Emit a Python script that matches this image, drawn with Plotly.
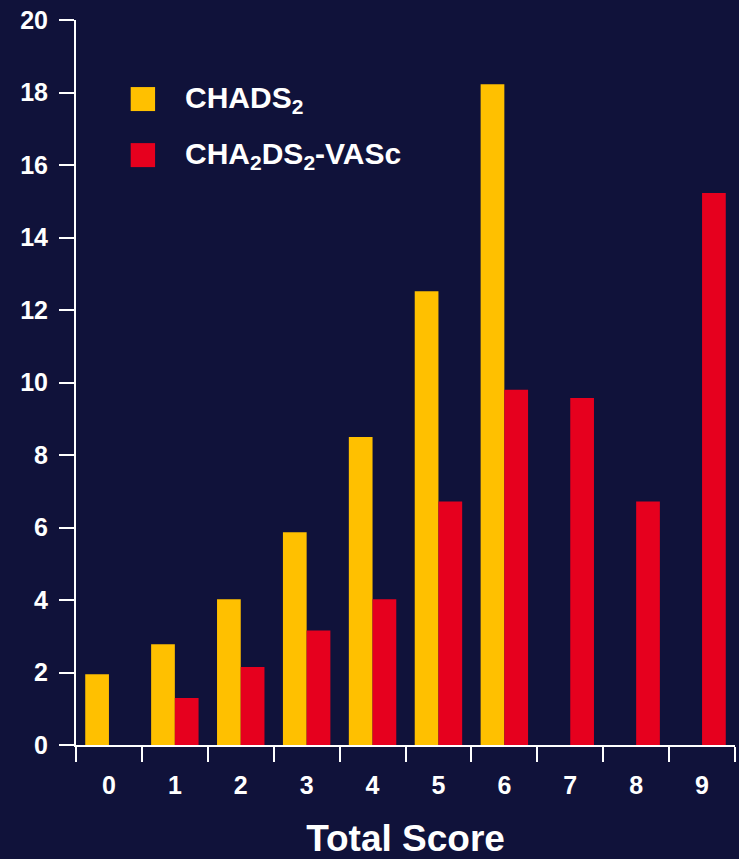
import plotly.graph_objects as go

# values (percent per total score)
scores = ['0', '1', '2', '3', '4', '5', '6', '7', '8', '9']
chads2 = [1.95, 2.78, 4.02, 5.87, 8.5, 12.52, 18.23, None, None, None]
cha2ds2_vasc = [None, 1.3, 2.15, 3.16, 4.02, 6.72, 9.8, 9.57, 6.72, 15.23]
series_names = ['CHADS<sub>2</sub>', 'CHA<sub>2</sub>DS<sub>2</sub>-VASc']
series_colors = ['#FFC000', '#E6001E']
y_ticks = [0, 2, 4, 6, 8, 10, 12, 14, 16, 18, 20]

BG = '#10123A'
FONT = dict(family='Liberation Sans, Arial, sans-serif', color='white', weight='bold')

fig = go.Figure()
fig.add_trace(go.Bar(x=scores, y=chads2, name=series_names[0],
                     marker=dict(color=series_colors[0], line_width=0)))
fig.add_trace(go.Bar(x=scores, y=cha2ds2_vasc, name=series_names[1],
                     marker=dict(color=series_colors[1], line_width=0)))

fig.update_layout(
    width=739, height=859,
    margin=dict(l=76, r=4, t=20, b=114),
    paper_bgcolor=BG, plot_bgcolor=BG,
    barmode='group', bargap=0.28, bargroupgap=0,
    showlegend=False,
    font=FONT,
)

fig.update_xaxes(
    type='category', tickson='boundaries',
    showline=True, linecolor='white', linewidth=2,
    ticks='outside', ticklen=15, tickwidth=2, tickcolor='white',
    tickfont=dict(size=25, **FONT), ticklabelstandoff=17,
    showgrid=False, zeroline=False,
    title=dict(text='Total Score', font=dict(size=37, **FONT), standoff=29),
)
fig.update_yaxes(
    range=[0, 20], tickvals=y_ticks,
    showline=True, linecolor='white', linewidth=2,
    ticks='outside', ticklen=15, tickwidth=2, tickcolor='white',
    tickfont=dict(size=25, **FONT), ticklabelstandoff=6,
    showgrid=False, zeroline=False,
)

# legend drawn as swatches + labels inside the plot, top left
for i, (name, color) in enumerate(zip(series_names, series_colors)):
    ytop = 0.9075 - i * 0.0773
    fig.add_shape(type='rect', xref='paper', yref='paper',
                  x0=0.083, x1=0.12, y0=ytop - 0.0331, y1=ytop,
                  fillcolor=color, line_width=0)
    fig.add_annotation(xref='paper', yref='paper', x=0.163, y=ytop - 0.0166,
                       text=name, showarrow=False, xanchor='left', yanchor='middle',
                       font=dict(size=30, **FONT))

fig.write_html('out.html', config={'displayModeBar': False},
               post_script="document.body.style.margin='0';document.body.style.background='" + BG + "';")
